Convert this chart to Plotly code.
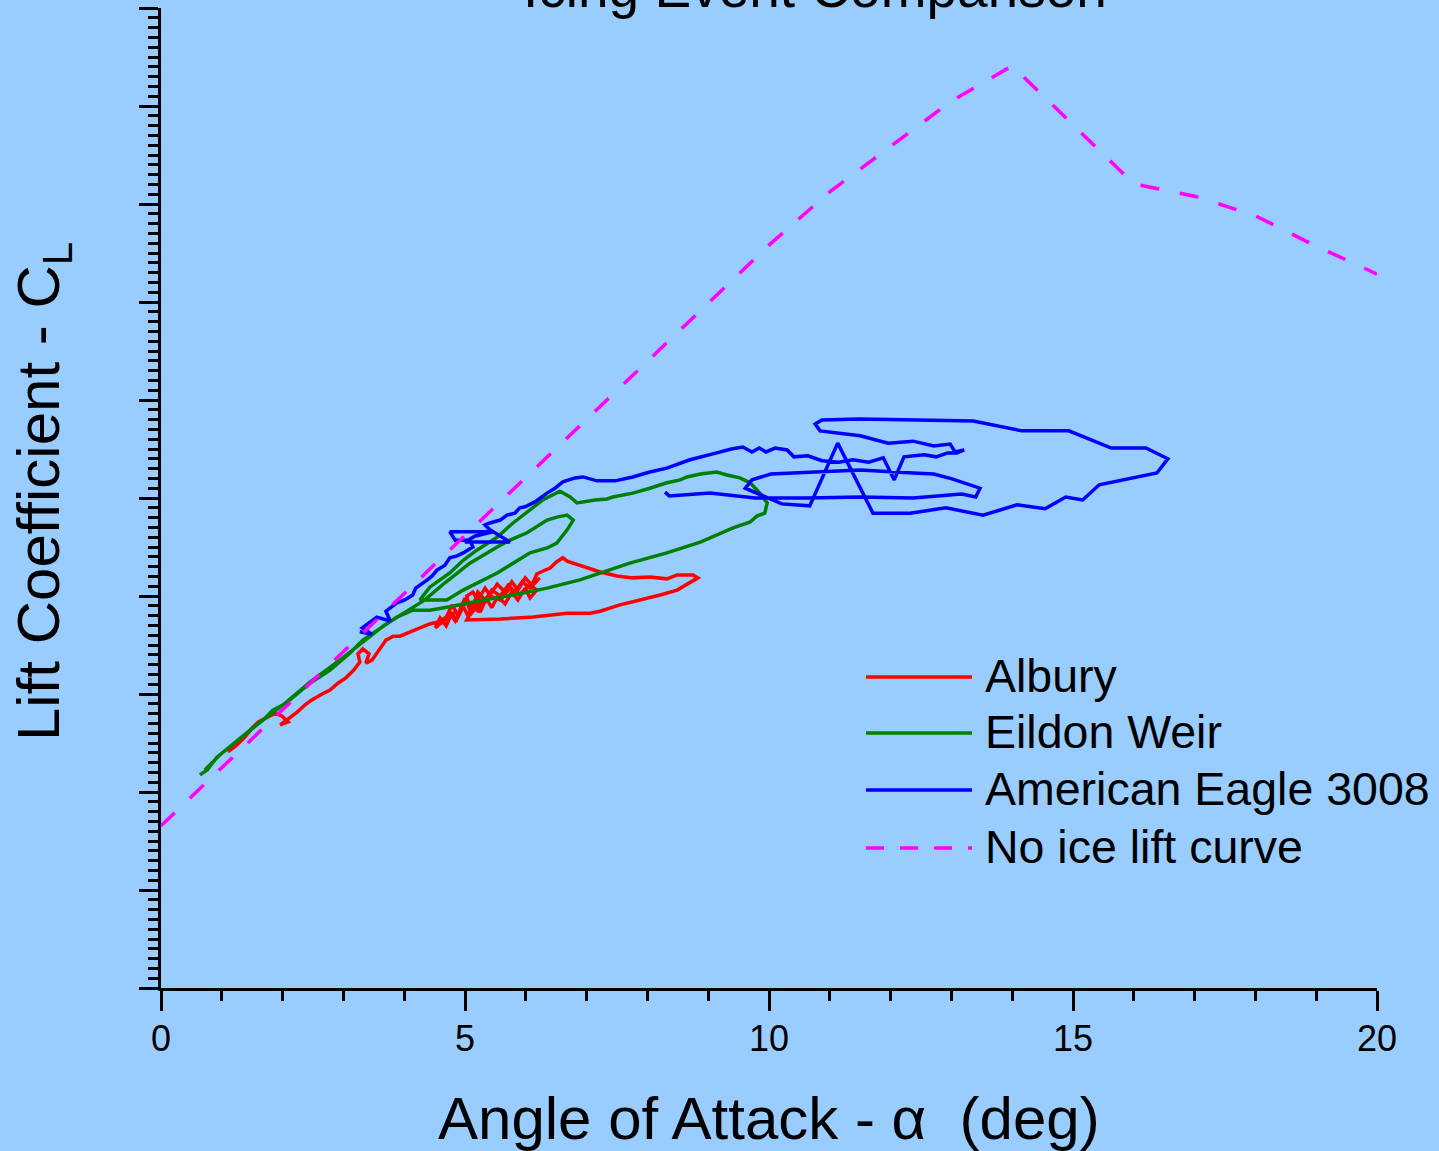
import plotly.graph_objects as go

# ---- Flight-derived lift data: angle of attack (deg) vs lift coefficient ----
albury_alpha = [1.10, 1.23, 1.38, 1.50, 1.60, 1.73, 1.88, 1.99, 2.09, 1.96, 2.12, 2.24, 2.37, 2.48,
                2.65, 2.78, 2.91, 3.04, 3.17, 3.27, 3.24, 3.32, 3.42, 3.37, 3.47, 3.60, 3.70, 3.82,
                3.93, 4.10, 4.26, 4.42, 4.56, 4.67, 4.75, 4.84, 4.92, 4.95, 4.88, 5.02, 5.08, 5.03,
                5.13, 5.21, 5.33, 5.41, 5.53, 5.66, 5.77, 5.87, 5.99, 6.10, 6.18, 6.32, 6.40, 6.50,
                6.61, 6.68, 6.89, 7.22, 7.50, 7.76, 8.04, 8.32, 8.49, 8.75, 8.83, 8.70, 8.49, 8.21,
                7.88, 7.55, 7.22, 7.06, 6.68, 6.12, 5.58, 5.03, 5.16, 5.08, 5.28, 5.20, 5.41, 5.58,
                5.74, 5.90, 6.07, 6.18,
                6.07, 5.99, 5.87, 5.77, 5.66, 5.54, 5.44, 5.35, 5.25, 5.15, 5.05, 4.95, 4.85, 4.79,
                4.69, 4.59, 4.51, 4.67, 4.79, 4.88, 5.00, 5.12, 5.21, 5.33, 5.44, 5.58, 5.71, 5.82,
                5.94, 6.07, 6.23]
albury_cl = [0.482, 0.494, 0.512, 0.531, 0.543, 0.551, 0.561, 0.555, 0.543, 0.537, 0.551, 0.563, 0.578, 0.588,
             0.600, 0.608, 0.622, 0.633, 0.649, 0.665, 0.682, 0.692, 0.682, 0.663, 0.669, 0.694, 0.710, 0.718,
             0.718, 0.727, 0.735, 0.743, 0.747, 0.755, 0.765, 0.749, 0.767, 0.780, 0.755, 0.792, 0.771, 0.800,
             0.808, 0.792, 0.816, 0.802, 0.824, 0.808, 0.829, 0.812, 0.837, 0.822, 0.845, 0.853, 0.857, 0.869,
             0.878, 0.871, 0.863, 0.849, 0.841, 0.837, 0.839, 0.835, 0.843, 0.843, 0.837, 0.827, 0.812, 0.802,
             0.792, 0.782, 0.769, 0.765, 0.765, 0.757, 0.753, 0.751, 0.782, 0.761, 0.792, 0.767, 0.800, 0.792,
             0.816, 0.804, 0.822, 0.812,
             0.796, 0.816, 0.792, 0.808, 0.784, 0.800, 0.776, 0.796, 0.767, 0.788, 0.759, 0.784, 0.747, 0.767,
             0.739, 0.755, 0.735, 0.751, 0.782, 0.761, 0.796, 0.776, 0.808, 0.792, 0.812, 0.800, 0.822, 0.808,
             0.829, 0.816, 0.837]

eildon_alpha = [0.64, 0.76, 0.92, 1.13, 1.35, 1.68, 1.84, 2.01, 2.12, 2.45, 2.78, 3.11, 3.32, 3.65,
                3.88, 4.14, 4.42, 4.75, 5.30, 5.79, 6.35, 6.89, 7.71, 8.32, 8.87, 9.41, 9.69, 9.80,
                9.93, 9.97, 9.85, 9.69, 9.52, 9.31, 9.14, 8.87, 8.65, 8.54, 8.32, 8.04, 7.76, 7.43,
                7.34, 7.14, 6.84, 6.73, 6.56, 6.28, 6.07, 5.79, 5.53, 5.20, 4.97, 4.75, 4.42, 4.26,
                4.70, 4.97, 5.53, 6.07, 6.35, 6.51, 6.68, 6.78, 6.68, 6.51, 6.35, 6.02, 5.74, 5.53,
                5.08, 4.67, 4.34, 4.01, 3.68, 3.36, 2.94, 2.45, 2.01, 1.63, 1.30, 0.97, 0.72]
eildon_cl = [0.435, 0.445, 0.471, 0.492, 0.512, 0.547, 0.567, 0.578, 0.588, 0.622, 0.649, 0.684, 0.710, 0.737,
             0.757, 0.771, 0.771, 0.778, 0.792, 0.802, 0.816, 0.833, 0.867, 0.888, 0.910, 0.939, 0.951, 0.963,
             0.969, 0.990, 1.010, 1.031, 1.041, 1.047, 1.053, 1.049, 1.043, 1.037, 1.031, 1.020, 1.010, 1.002,
             0.998, 0.996, 0.990, 1.002, 1.014, 0.996, 0.976, 0.949, 0.920, 0.894, 0.873, 0.847, 0.818, 0.792,
             0.792, 0.812, 0.847, 0.888, 0.898, 0.908, 0.935, 0.955, 0.965, 0.961, 0.955, 0.929, 0.914, 0.900,
             0.867, 0.827, 0.792, 0.767, 0.741, 0.710, 0.669, 0.624, 0.578, 0.543, 0.510, 0.476, 0.445]

eagle_alpha = [3.27, 3.47, 3.31, 3.55, 3.77, 3.70, 3.88, 4.01, 4.14, 4.19, 4.38, 4.46, 4.54, 4.67,
               4.75, 4.87, 4.97, 5.13, 5.08, 4.84, 4.75, 5.46, 5.16, 5.00, 5.74, 5.41, 5.33, 5.41,
               5.58, 5.69, 5.82, 5.90, 5.99, 6.15, 6.35, 6.48, 6.61, 6.81, 6.94, 7.17, 7.47, 7.76,
               8.04, 8.32, 8.70, 8.91, 9.14, 9.38, 9.57, 9.72, 9.84, 9.95, 10.10, 10.30, 10.41, 10.64,
               10.87, 11.15, 11.38, 11.64, 11.88, 12.06, 12.22, 12.55, 12.75, 12.94, 13.09, 13.21, 13.06, 12.98,
               12.71, 12.37, 11.96, 11.50, 10.84, 10.76, 10.87, 11.50, 13.36, 14.16, 14.93, 15.63, 16.20, 16.56,
               16.38, 15.43, 15.16, 14.88, 14.54, 14.08, 13.52, 12.91, 12.32, 11.71, 11.13, 10.67, 10.21, 9.61,
               9.72, 10.03, 10.46, 11.50, 12.37, 12.71, 13.01, 13.47, 13.40, 13.17, 12.37, 11.50, 10.64, 9.77,
               9.03, 8.36, 8.29]
eagle_cl = [0.727, 0.722, 0.735, 0.757, 0.749, 0.769, 0.786, 0.792, 0.802, 0.816, 0.833, 0.841, 0.853, 0.863,
            0.878, 0.882, 0.888, 0.900, 0.914, 0.914, 0.931, 0.931, 0.922, 0.910, 0.910, 0.935, 0.945, 0.949,
            0.955, 0.965, 0.969, 0.980, 0.982, 0.992, 1.010, 1.020, 1.033, 1.041, 1.043, 1.035, 1.035, 1.043,
            1.053, 1.061, 1.078, 1.084, 1.092, 1.100, 1.104, 1.094, 1.102, 1.094, 1.102, 1.098, 1.084, 1.086,
            1.076, 1.073, 1.078, 1.073, 1.082, 1.037, 1.084, 1.088, 1.084, 1.092, 1.092, 1.098, 1.094, 1.110,
            1.106, 1.116, 1.112, 1.127, 1.137, 1.151, 1.159, 1.161, 1.157, 1.137, 1.137, 1.102, 1.102, 1.080,
            1.051, 1.027, 0.996, 1.002, 0.978, 0.986, 0.965, 0.980, 0.969, 0.969, 1.112, 0.984, 0.988, 1.020,
            1.037, 1.049, 1.051, 1.057, 1.051, 1.049, 1.039, 1.020, 1.002, 1.008, 1.000, 1.002, 1.000, 1.000,
            1.010, 1.004, 1.012]

# Clean-wing reference lift curve
no_ice_alpha = [0, 5, 10, 11, 12, 13, 14, 15, 16, 17, 18, 19, 20]
no_ice_cl = [0.331, 0.924, 1.516, 1.625, 1.718, 1.810, 1.882, 1.761, 1.641, 1.616, 1.576, 1.514, 1.457]

series_names = ["Albury", "Eildon Weir", "American Eagle 3008", "No ice lift curve"]
series_colors = ["#FF0000", "#008000", "#0000FF", "#FF00FF"]

x_ticks = [0, 5, 10, 15, 20]
x_tick_text = ["0", "5", "10", "15", "20"]

title_text = "Icing Event Comparison"
x_title = "Angle of Attack - \u03b1\u00a0\u00a0(deg)"
y_title = "Lift Coefficient - C<sub>L</sub>"

FONT = "Liberation Sans, Arial, sans-serif"
BG = "#99CCFF"

series_data = [
    (albury_alpha, albury_cl),
    (eildon_alpha, eildon_cl),
    (eagle_alpha, eagle_cl),
    (no_ice_alpha, no_ice_cl),
]
line_dash = ["solid", "solid", "solid", "19px,21px"]

fig = go.Figure()
for (xs, ys), name, color, dash in zip(series_data, series_names, series_colors, line_dash):
    fig.add_trace(go.Scatter(
        x=xs, y=ys, mode="lines", name=name,
        line=dict(color=color, width=3.5, dash=dash),
        showlegend=False,
    ))

# Page geometry (pixels)
W, H = 1439, 1151
ML, MR, MT, MB = 161, 62, 8, 163
PW, PH = W - ML - MR, H - MT - MB


def px_x(p):
    return (p - ML) / PW


def px_y(p):
    return (H - MB - p) / PH


# Hand-built legend with long line samples
legend_rows = [677, 733, 790, 848]
legend_dash = [None, None, None, "18px,16px"]
for name, color, row, dash in zip(series_names, series_colors, legend_rows, legend_dash):
    line = dict(color=color, width=3.5)
    if dash:
        line["dash"] = dash
    fig.add_shape(type="line", xref="paper", yref="paper",
                  x0=px_x(866), x1=px_x(972), y0=px_y(row), y1=px_y(row), line=line)
    fig.add_annotation(xref="paper", yref="paper", x=px_x(983), y=px_y(row - 1),
                       xanchor="left", yanchor="middle", text=name, showarrow=False,
                       font=dict(family=FONT, size=46.5, color="black"))

# Title and axis titles
fig.add_annotation(xref="paper", yref="paper", x=px_x(815), y=px_y(-12),
                   xanchor="center", yanchor="middle", text=title_text, showarrow=False,
                   font=dict(family=FONT, size=55, color="black"))
fig.add_annotation(xref="paper", yref="paper", x=px_x(769), y=px_y(1118),
                   xanchor="center", yanchor="middle", text=x_title, showarrow=False,
                   font=dict(family=FONT, size=60, color="black"))
fig.add_annotation(xref="paper", yref="paper", x=px_x(43), y=px_y(492),
                   xanchor="center", yanchor="middle", text=y_title, showarrow=False,
                   textangle=-90, font=dict(family=FONT, size=60, color="black"))

fig.update_layout(
    width=W, height=H, autosize=False,
    margin=dict(l=ML, r=MR, t=MT, b=MB, pad=0),
    paper_bgcolor=BG, plot_bgcolor=BG,
    showlegend=False,
    font=dict(family=FONT, color="black"),
)

fig.update_xaxes(
    range=[0, 20], tickmode="array", tickvals=x_ticks, ticktext=x_tick_text,
    ticks="outside", ticklen=20, tickwidth=3, tickcolor="black",
    showline=True, linewidth=3, linecolor="black", mirror=False,
    showgrid=False, zeroline=False,
    ticklabelstandoff=-3,
    tickfont=dict(family=FONT, size=36, color="black"),
    minor=dict(dtick=1, tick0=0, ticks="outside", ticklen=10, tickwidth=3,
               tickcolor="black", showgrid=False),
)
fig.update_yaxes(
    range=[0, 2.0], tickmode="linear", tick0=0, dtick=0.2,
    ticks="outside", ticklen=19, tickwidth=3, tickcolor="black",
    showticklabels=False,
    showline=True, linewidth=3, linecolor="black", mirror=False,
    showgrid=False, zeroline=False,
    minor=dict(dtick=0.02, tick0=0, ticks="outside", ticklen=10, tickwidth=3,
               tickcolor="black", showgrid=False),
)

fig.write_html("out.html")
